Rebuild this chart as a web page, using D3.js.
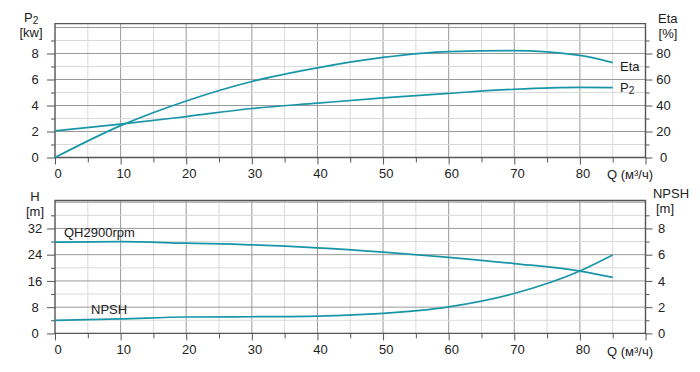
<!DOCTYPE html>
<html>
<head>
<meta charset="utf-8">
<script src="https://cdn.jsdelivr.net/npm/d3@7"></script>
<style>
  body { margin: 0; background: #fff; }
  svg text { font-family: "Liberation Sans", Arial, sans-serif; fill: #222; }
  .grid-major { stroke: #9a9a9a; stroke-width: 1; }
  .grid-minor { stroke: #dadada; stroke-width: 1; }
  .frame { stroke: #555; stroke-width: 1.4; fill: none; }
  .curve { fill: none; stroke: #1896a8; stroke-width: 1.7; }
  .axis path { display: none; }
  .axis line { stroke: #555; }
  .axis text { font-size: 13px; }
</style>
</head>
<body>
<svg id="chart" width="700" height="372"></svg>
<script>
// flow values (m3/h)
const flow = [0, 10, 20, 30, 40, 50, 60, 70, 80, 85];
// top chart
const p2 = [2.05, 2.56, 3.15, 3.77, 4.18, 4.58, 4.93, 5.25, 5.4, 5.38];
const eta = [0, 24.5, 43.5, 58.5, 69, 77, 81.5, 82.2, 78.5, 73];
// bottom chart
const head = [27.8, 28.0, 27.5, 27.0, 26.1, 24.8, 23.2, 21.3, 19.0, 17.1];
const npsh = [1.0, 1.1, 1.25, 1.27, 1.32, 1.52, 2.02, 3.04, 4.75, 5.97];

const qTicks = [0, 10, 20, 30, 40, 50, 60, 70, 80];
const p2Ticks = [0, 2, 4, 6, 8];
const etaTicks = [0, 20, 40, 60, 80];
const hTicks = [0, 8, 16, 24, 32];
const npshTicks = [0, 2, 4, 6, 8];

let svg = d3.select("#chart");

let x = d3.scaleLinear().domain([0, 90]).range([55, 645.5]);

// scales
let yP2 = d3.scaleLinear().domain([0, 10]).range([157.5, 27.5]);
let yEta = d3.scaleLinear().domain([0, 100]).range([157.5, 27.5]);
let yH = d3.scaleLinear().domain([0, 40]).range([333.4, 202.2]);
let yNpsh = d3.scaleLinear().domain([0, 10]).range([333.4, 202.2]);

function drawPanel(g, yLeft, topVal, majorStep, minorStep) {
  let y0 = yLeft(0);
  let yTop = yLeft(topVal);

  // vertical grid
  d3.range(5, 90, 5).forEach(function (q) {
    g.append("line")
      .attr("class", q % 10 === 0 ? "grid-major" : "grid-minor")
      .attr("x1", x(q)).attr("x2", x(q))
      .attr("y1", y0).attr("y2", yTop);
  });

  // horizontal grid
  d3.range(minorStep, topVal, minorStep).forEach(function (v) {
    let major = Math.abs(v / majorStep - Math.round(v / majorStep)) < 1e-6;
    g.append("line")
      .attr("class", major ? "grid-major" : "grid-minor")
      .attr("x1", x(0)).attr("x2", x(90))
      .attr("y1", yLeft(v)).attr("y2", yLeft(v));
  });

  // frame
  g.append("path")
    .attr("class", "frame")
    .attr("d", `M ${x(0)} ${yTop} L ${x(90)} ${yTop} L ${x(90)} ${y0} L ${x(0)} ${y0} Z`);

  // minor x ticks
  g.append("g")
    .attr("class", "axis")
    .attr("transform", `translate(0,${y0})`)
    .call(d3.axisBottom(x).tickValues(d3.range(5, 90, 10)).tickSize(5).tickFormat(""));

  // major x ticks
  let xa = g.append("g")
    .attr("class", "axis")
    .attr("transform", `translate(0,${y0})`)
    .call(d3.axisBottom(x).tickValues(qTicks.concat([90])).tickSize(7).tickPadding(4)
      .tickFormat(d => d === 90 ? "" : d));
  xa.selectAll("text").attr("dx", "0.2em");

  // minor y ticks left and right
  let minorVals = d3.range(minorStep, topVal, majorStep);
  g.append("g")
    .attr("class", "axis")
    .attr("transform", `translate(${x(0)},0)`)
    .call(d3.axisLeft(yLeft).tickValues(minorVals).tickSize(4).tickFormat(""));
  g.append("g")
    .attr("class", "axis")
    .attr("transform", `translate(${x(90)},0)`)
    .call(d3.axisRight(yLeft).tickValues(minorVals).tickSize(4).tickFormat(""));
}

function leftAxis(g, scale, ticks) {
  let a = g.append("g")
    .attr("class", "axis")
    .attr("transform", `translate(${x(0)},0)`)
    .call(d3.axisLeft(scale).tickValues(ticks).tickSize(8).tickPadding(3));
  a.selectAll("text").attr("text-anchor", "middle").attr("x", -20);
}

function rightAxis(g, scale, ticks, cx) {
  let a = g.append("g")
    .attr("class", "axis")
    .attr("transform", `translate(${x(90)},0)`)
    .call(d3.axisRight(scale).tickValues(ticks).tickSize(7).tickPadding(3));
  a.selectAll("text").attr("text-anchor", "middle").attr("x", cx);
}

function curve(g, yScale, values) {
  let pts = flow.map((q, i) => [q, values[i]]);
  let line = d3.line()
    .x(d => x(d[0]))
    .y(d => yScale(d[1]))
    .curve(d3.curveMonotoneX);
  g.append("path").attr("class", "curve").attr("d", line(pts));
}

function label(g, px, py, txt, anchor) {
  return g.append("text")
    .attr("x", px).attr("y", py)
    .attr("font-size", 13)
    .attr("text-anchor", anchor || "start")
    .attr("dominant-baseline", "central")
    .text(txt);
}

// ---- top panel ----
let topPanel = svg.append("g");
drawPanel(topPanel, yP2, 10.3, 2, 1);
leftAxis(topPanel, yP2, p2Ticks);
rightAxis(topPanel, yEta, etaTicks, 18);
curve(topPanel, yP2, p2);
curve(topPanel, yEta, eta);

let p2Title = label(topPanel, 24, 17, "P");
p2Title.append("tspan").attr("font-size", 10).attr("dy", 3).text("2");
label(topPanel, 31, 32, "[kw]", "middle");
label(topPanel, 658, 18, "Eta");
label(topPanel, 668, 33, "[%]", "middle");
label(topPanel, 620, 66, "Eta");
let p2Lab = label(topPanel, 620, 87, "P");
p2Lab.append("tspan").attr("font-size", 10).attr("dy", 3).text("2");
label(topPanel, 607, 174, "Q (м³/ч)");

// ---- bottom panel ----
let bottomPanel = svg.append("g");
drawPanel(bottomPanel, yH, 40.5, 8, 4);
leftAxis(bottomPanel, yH, hTicks);
rightAxis(bottomPanel, yNpsh, npshTicks, 16);
curve(bottomPanel, yH, head);
curve(bottomPanel, yNpsh, npsh);

label(bottomPanel, 35, 196, "H", "middle");
label(bottomPanel, 35, 211, "[m]", "middle");
label(bottomPanel, 671, 193, "NPSH", "middle");
label(bottomPanel, 665, 208, "[m]", "middle");
label(bottomPanel, 64, 232, "QH2900rpm");
label(bottomPanel, 91, 309, "NPSH");
label(bottomPanel, 607, 351, "Q (м³/ч)");
</script>
</body>
</html>
